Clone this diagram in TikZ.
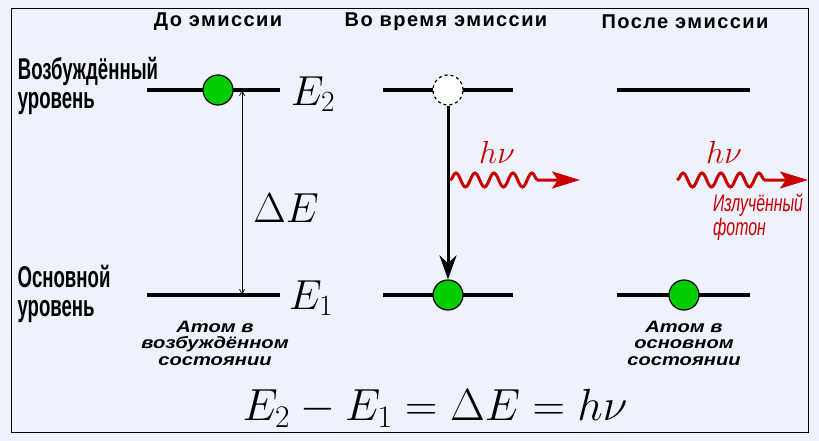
\RequirePackage{fix-cm}
\documentclass[tikz,border=0pt]{standalone}
\usepackage[no-math]{fontspec}
\newfontfamily\headfont[LetterSpace=7]{Liberation Sans}
\newfontfamily\narrowfont[FakeStretch=0.62]{Liberation Sans}
\newfontfamily\photonfont[FakeStretch=0.66]{Liberation Sans}
\newfontfamily\labelfont[FakeStretch=1.22]{Liberation Sans}
\usetikzlibrary{arrows.meta,decorations.pathmorphing}

\definecolor{bg}{RGB}{238,242,252}
\definecolor{photon}{RGB}{200,0,0}
\definecolor{atomgreen}{RGB}{0,204,0}

\tikzset{
  level/.style={line width=3.2pt},
  atom/.style={circle,draw,line width=1.2pt,fill=atomgreen,minimum size=30pt,inner sep=0pt},
  hole/.style={circle,draw,dashed,line width=1.2pt,fill=white,minimum size=30pt,inner sep=0pt},
  head/.style={font=\headfont\bfseries\fontsize{20}{22}\selectfont},
  side/.style={font=\narrowfont\bfseries\fontsize{30}{29}\selectfont,align=left},
  state/.style={font=\labelfont\bfseries\itshape\fontsize{16.5}{16.5}\selectfont,align=center},
  mathlbl/.style={font=\fontsize{42}{46}\selectfont},
  hvlbl/.style={font=\fontsize{32}{36}\selectfont,text=photon},
  wave/.style={photon,line width=3pt,decorate,
    decoration={snake,amplitude=7pt,segment length=19pt,post length=36pt},
    -{Stealth[length=28pt,width=17pt,inset=6pt]}}
}

\begin{document}
\begin{tikzpicture}[x=1pt,y=-1pt]
  \fill[bg] (0,0) rectangle (819,441);
  \useasboundingbox (0,0) rectangle (819,441);
  \draw[line width=1pt] (11,9) rectangle (808,432);

  % titles
  \node[head] (t1) at (218,22) {До эмиссии};
  \node[head] (t2) at (446,22) {Во время эмиссии};
  \node[head] (t3) at (685,22) {После эмиссии};

  \node[side] (exc) at (88,86) {Возбуждённый\\уровень};
  \node[side] (grd) at (64,294) {Основной\\уровень};

  % levels
  \draw[level] (147,90) -- (280,90);
  \draw[level] (147,295) -- (280,295);
  \draw[level] (383,90) -- (513,90);
  \draw[level] (383,295) -- (513,295);
  \draw[level] (617,90) -- (750,90);
  \draw[level] (617,295) -- (750,295);

  \coordinate (de2) at (242,90);
  \coordinate (de1) at (242,295);
  \draw[line width=0.7pt,{Straight Barb[length=5pt,width=5pt]}-{Straight Barb[length=5pt,width=5pt]}] (de1) -- (de2);

  \node[atom] (a1) at (218,90) {};
  \node[hole] (a2) at (448,90) {};
  \node[atom] (a3) at (448,295) {};
  \node[atom] (a4) at (684,295) {};

  \draw[line width=3pt,-{Stealth[length=24pt,width=17pt]}] (a2) -- (a3);

  \node[mathlbl] (E2) at (313,94) {$E_2$};
  \node[mathlbl] (E1) at (311,298) {$E_1$};
  \node[mathlbl] (dE) at (286,208) {$\Delta E$};

  % photons
  \coordinate (p1) at (450,180);
  \coordinate (q1) at (580,180);
  \coordinate (p2) at (677,180);
  \coordinate (q2) at (808,180);
  \draw[wave] (p1) -- (q1);
  \draw[wave] (p2) -- (q2);
  \node[hvlbl] (hv1) at (497,152) {$h\nu$};
  \node[hvlbl] (hv2) at (724,152) {$h\nu$};
  \node[font=\photonfont\itshape\fontsize{24}{22}\selectfont,text=photon,align=left] (ph) at (758,217) {Излучённый\\фотон};

  \node[state] (s1) at (215,343) {Атом в\\возбуждённом\\состоянии};
  \node[state] (s2) at (684,343) {Атом в\\основном\\состоянии};

  \node[font=\fontsize{45}{50}\selectfont] (eq) at (435,408) {$E_2 - E_1 = \Delta E = h\nu$};
\end{tikzpicture}
\end{document}
